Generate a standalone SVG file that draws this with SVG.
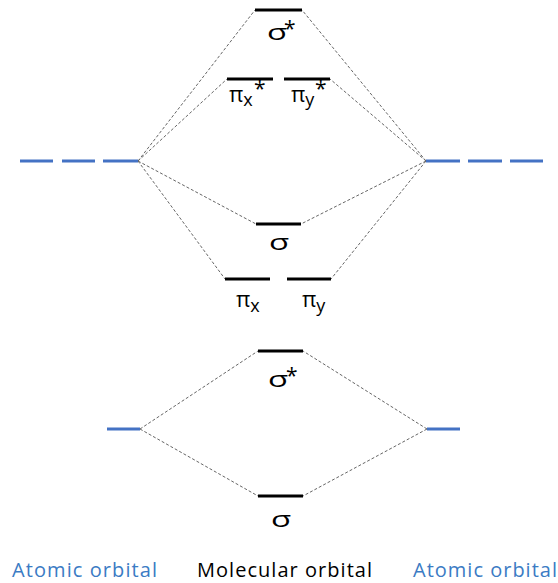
<svg xmlns="http://www.w3.org/2000/svg" width="558" height="583" viewBox="0 0 558 583">
  <style>
    .mo { stroke: #000; stroke-width: 3; }
    .ao { stroke: #4472c4; stroke-width: 3; }
    .link { stroke: #666; stroke-width: 1; stroke-dasharray: 3 2; fill: none; }
    .lbl { font-family: "Open Sans", "DejaVu Sans", sans-serif; font-size: 22px; fill: #000; }
    .mid { text-anchor: middle; }
    .star { font-family: "Open Sans", "DejaVu Sans", sans-serif; font-size: 21px; fill: #000; }
    .sub { font-size: 18px; }
    .cap { font-family: "Open Sans", "DejaVu Sans", sans-serif; font-size: 20px; }
    .blue { fill: #3b7bc4; }
  </style>
  <defs>
    <!-- wide sigma glyph, anchored at its baseline centre -->
    <text id="sigma" class="lbl mid" transform="scale(1.5,1)">σ</text>
  </defs>

  <!-- correlation lines -->
  <g id="connectors">
    <line class="link" x1="138" y1="161" x2="255" y2="10"/>
    <line class="link" x1="138" y1="161" x2="227" y2="79"/>
    <line class="link" x1="138" y1="161" x2="256" y2="224"/>
    <line class="link" x1="138" y1="161" x2="225" y2="279"/>
    <line class="link" x1="426" y1="161" x2="302" y2="10"/>
    <line class="link" x1="426" y1="161" x2="330" y2="79"/>
    <line class="link" x1="426" y1="161" x2="301" y2="224"/>
    <line class="link" x1="426" y1="161" x2="331" y2="279"/>
    <line class="link" x1="140" y1="429" x2="258" y2="351"/>
    <line class="link" x1="140" y1="429" x2="258" y2="496"/>
    <line class="link" x1="427" y1="429" x2="303" y2="351"/>
    <line class="link" x1="427" y1="429" x2="303" y2="496"/>
  </g>

  <!-- p atomic orbitals -->
  <g id="ao-p-left">
    <line class="ao" x1="20" y1="161" x2="53" y2="161"/>
    <line class="ao" x1="62" y1="161" x2="95" y2="161"/>
    <line class="ao" x1="103" y1="161" x2="138" y2="161"/>
  </g>
  <g id="ao-p-right">
    <line class="ao" x1="426" y1="161" x2="460" y2="161"/>
    <line class="ao" x1="468" y1="161" x2="502" y2="161"/>
    <line class="ao" x1="510" y1="161" x2="543" y2="161"/>
  </g>

  <!-- p-derived molecular orbitals -->
  <g id="mo-sigma-star-p">
    <line class="mo" x1="255" y1="10" x2="302" y2="10"/>
    <use href="#sigma" transform="translate(277,40)"/>
    <text class="star" x="284" y="40" dy="-4">*</text>
  </g>
  <g id="mo-pi-x-star">
    <line class="mo" x1="227" y1="79" x2="273" y2="79"/>
    <text class="lbl" x="229" y="102">π<tspan class="sub" dy="4">x</tspan></text>
    <text class="star" x="254" y="100" dy="-4">*</text>
  </g>
  <g id="mo-pi-y-star">
    <line class="mo" x1="284" y1="79" x2="330" y2="79"/>
    <text class="lbl" x="291" y="102">π<tspan class="sub" dy="4">y</tspan></text>
    <text class="star" x="315" y="100" dy="-4">*</text>
  </g>
  <g id="mo-sigma-p">
    <line class="mo" x1="256" y1="224" x2="301" y2="224"/>
    <use href="#sigma" transform="translate(279,250)"/>
  </g>
  <g id="mo-pi-x">
    <line class="mo" x1="225" y1="279" x2="270" y2="279"/>
    <text class="lbl" x="236" y="307">π<tspan class="sub" dy="5">x</tspan></text>
  </g>
  <g id="mo-pi-y">
    <line class="mo" x1="287" y1="279" x2="331" y2="279"/>
    <text class="lbl" x="302" y="307">π<tspan class="sub" dy="5">y</tspan></text>
  </g>

  <!-- s atomic orbitals -->
  <g id="ao-s-left">
    <line class="ao" x1="107" y1="429" x2="140" y2="429"/>
  </g>
  <g id="ao-s-right">
    <line class="ao" x1="427" y1="429" x2="460" y2="429"/>
  </g>

  <!-- s-derived molecular orbitals -->
  <g id="mo-sigma-star-s">
    <line class="mo" x1="258" y1="351" x2="303" y2="351"/>
    <use href="#sigma" transform="translate(278,387)"/>
    <text class="star" x="286" y="387" dy="-4">*</text>
  </g>
  <g id="mo-sigma-s">
    <line class="mo" x1="258" y1="496" x2="303" y2="496"/>
    <use href="#sigma" transform="translate(281,527)"/>
  </g>

  <!-- column captions -->
  <g id="captions">
    <text class="cap blue" x="12" y="577" textLength="145">Atomic orbital</text>
    <text class="cap" x="197" y="577" fill="#000" textLength="175">Molecular orbital</text>
    <text class="cap blue" x="413" y="577" textLength="144">Atomic orbital</text>
  </g>
</svg>
